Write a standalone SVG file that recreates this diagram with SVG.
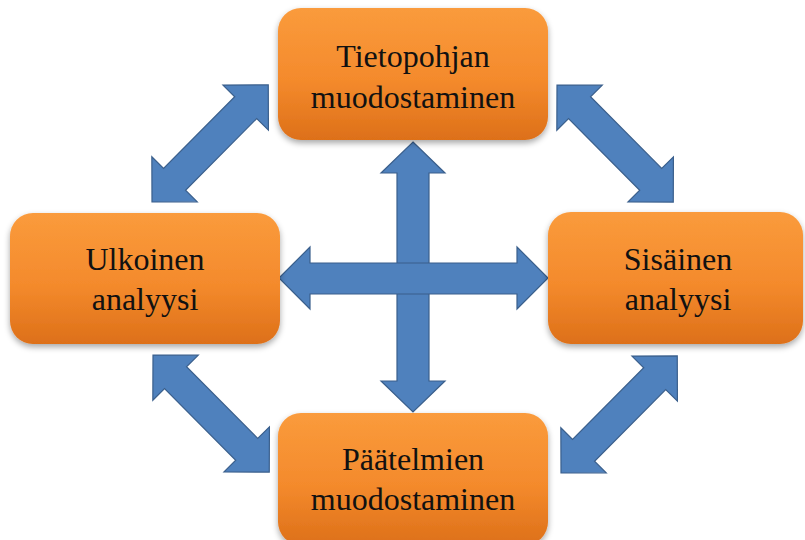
<svg xmlns="http://www.w3.org/2000/svg" width="805" height="540" viewBox="0 0 805 540">
  <defs>
    <linearGradient id="boxFill" x1="0" y1="0" x2="0" y2="1">
      <stop offset="0" stop-color="#FA9B3C"/>
      <stop offset="0.55" stop-color="#F48A2C"/>
      <stop offset="1" stop-color="#DD7019"/>
    </linearGradient>
    <filter id="shadow" x="-10%" y="-10%" width="120%" height="130%">
      <feGaussianBlur in="SourceAlpha" stdDeviation="3"/>
      <feOffset dx="0" dy="3" result="blur"/>
      <feComponentTransfer><feFuncA type="linear" slope="0.35"/></feComponentTransfer>
      <feMerge><feMergeNode/><feMergeNode in="SourceGraphic"/></feMerge>
    </filter>
    <!-- double-headed block arrow, length 165, drawn along +x from the origin -->
    <polygon id="dbl165" points="0,0 32,-32 32,-15.5 133,-15.5 133,-32 165,0 133,32 133,15.5 32,15.5 32,32"/>
  </defs>
  <style>
    .box { fill: url(#boxFill); filter: url(#shadow); }
    .lbl { font-size: 32px; fill: #111; text-anchor: middle; }
    .arrow { fill: #4F81BD; stroke: #3A5F8C; stroke-width: 1.2; stroke-linejoin: miter; }
  </style>

  <rect width="805" height="540" fill="#FFFFFF"/>

  <g id="connectors">
    <!-- central cross -->
    <polygon class="arrow" points="413,142 445,173 429,173 429,381 445,381 413,412 381,381 397,381 397,173 381,173"/>
    <polygon class="arrow" points="279,278 310,247 310,263 517,263 517,247 548,278 517,309 517,294 310,294 310,309"/>
    <!-- diagonal links between neighbouring boxes -->
    <use class="arrow" href="#dbl165" transform="translate(152,202) rotate(-45.2)"/>
    <use class="arrow" href="#dbl165" transform="translate(557,85) rotate(45.2)"/>
    <use class="arrow" href="#dbl165" transform="translate(153,355) rotate(45.2)"/>
    <use class="arrow" href="#dbl165" transform="translate(561,473) rotate(-45.2)"/>
  </g>

  <g id="tietopohja" font-family="Liberation Serif, DejaVu Serif, serif">
    <rect class="box" x="278" y="8" width="270" height="132" rx="23"/>
    <text class="lbl" x="413" y="67">Tietopohjan</text>
    <text class="lbl" x="413" y="108">muodostaminen</text>
  </g>

  <g id="ulkoinen" font-family="Liberation Serif, DejaVu Serif, serif">
    <rect class="box" x="10" y="213" width="270" height="131" rx="23"/>
    <text class="lbl" x="145" y="270">Ulkoinen</text>
    <text class="lbl" x="145" y="310">analyysi</text>
  </g>

  <g id="sisainen" font-family="Liberation Serif, DejaVu Serif, serif">
    <rect class="box" x="548" y="212" width="255" height="132" rx="23"/>
    <text class="lbl" x="678" y="270">Sisäinen</text>
    <text class="lbl" x="678" y="310">analyysi</text>
  </g>

  <g id="paatelmat" font-family="Liberation Serif, DejaVu Serif, serif">
    <rect class="box" x="278" y="413" width="270" height="132" rx="23"/>
    <text class="lbl" x="413" y="470">Päätelmien</text>
    <text class="lbl" x="413" y="510">muodostaminen</text>
  </g>
</svg>
